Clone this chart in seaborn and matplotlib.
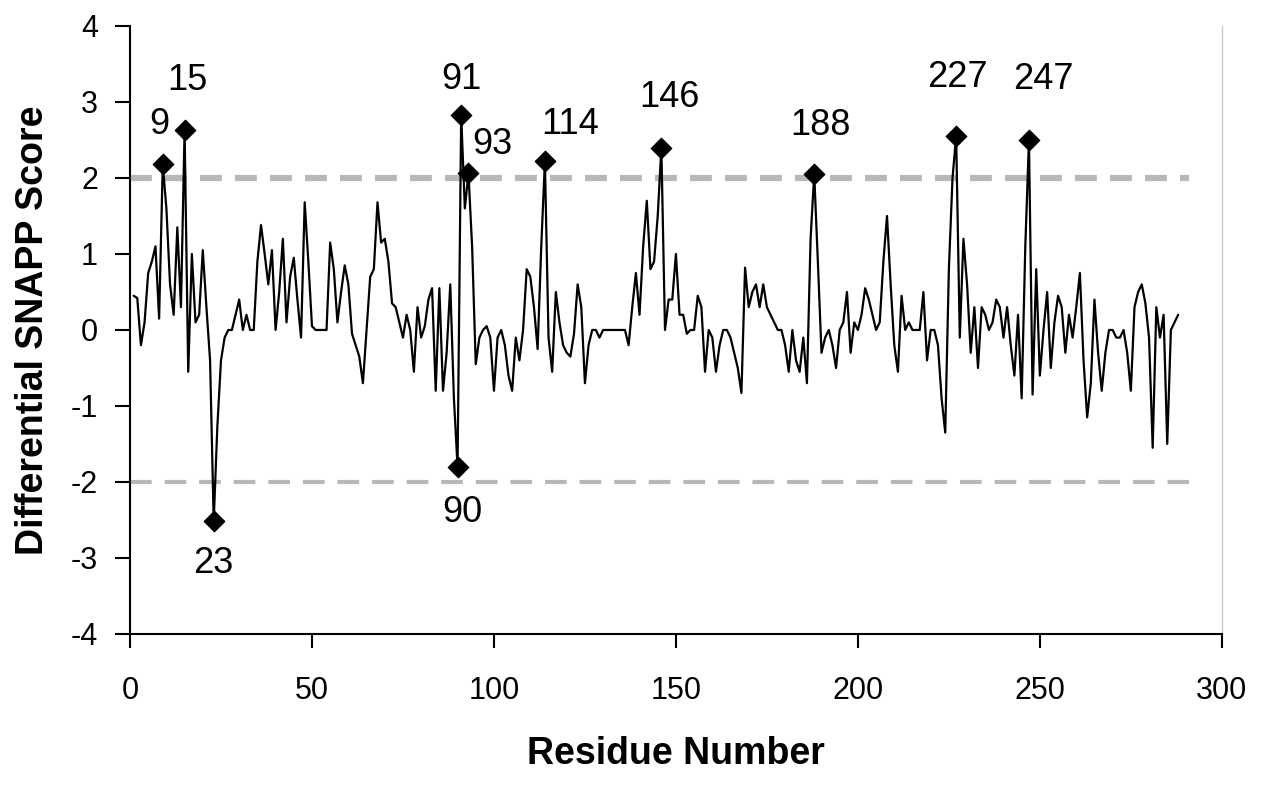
import matplotlib
matplotlib.use('Agg')
import matplotlib.pyplot as plt
import numpy as np
import pandas as pd
import seaborn as sns

# differential SNAPP score per residue
residues = list(range(1, 289))
scores = [
    0.45, 0.42, -0.2, 0.1, 0.75, 0.9, 1.1, 0.15, 2.18, 1.6,
    0.6, 0.2, 1.35, 0.3, 2.63, -0.55, 1.0, 0.1, 0.2, 1.05,
    0.3, -0.4, -2.52, -1.27, -0.4, -0.1, 0.0, 0.0, 0.2, 0.4,
    0.0, 0.2, 0.0, 0.0, 0.9, 1.38, 1.0, 0.6, 1.05, 0.0,
    0.5, 1.2, 0.1, 0.7, 0.95, 0.4, -0.1, 1.68, 0.9, 0.05,
    0.0, 0.0, 0.0, 0.0, 1.15, 0.8, 0.1, 0.5, 0.85, 0.6,
    -0.05, -0.2, -0.35, -0.7, 0.0, 0.7, 0.8, 1.68, 1.15, 1.2,
    0.9, 0.35, 0.3, 0.1, -0.1, 0.2, 0.0, -0.55, 0.3, -0.1,
    0.05, 0.4, 0.55, -0.8, 0.55, -0.8, -0.3, 0.6, -0.9, -1.8,
    2.83, 1.6, 2.06, 1.1, -0.45, -0.1, 0.0, 0.05, -0.1, -0.8,
    -0.1, 0.0, -0.2, -0.6, -0.8, -0.1, -0.4, 0.0, 0.8, 0.7,
    0.3, -0.25, 1.1, 2.22, -0.1, -0.55, 0.5, 0.1, -0.2, -0.3,
    -0.35, -0.05, 0.6, 0.3, -0.7, -0.2, 0.0, 0.0, -0.1, 0.0,
    0.0, 0.0, 0.0, 0.0, 0.0, 0.0, -0.2, 0.3, 0.75, 0.2,
    1.1, 1.7, 0.8, 0.9, 1.5, 2.4, 0.0, 0.4, 0.4, 1.0,
    0.2, 0.2, -0.05, 0.0, 0.0, 0.45, 0.3, -0.55, 0.0, -0.1,
    -0.55, -0.2, 0.0, 0.0, -0.1, -0.3, -0.5, -0.83, 0.82, 0.3,
    0.5, 0.6, 0.3, 0.6, 0.3, 0.2, 0.1, 0.0, 0.0, -0.2,
    -0.55, 0.0, -0.4, -0.55, -0.1, -0.7, 1.2, 2.05, 0.9, -0.3,
    -0.1, 0.0, -0.2, -0.5, 0.0, 0.1, 0.5, -0.3, 0.1, 0.0,
    0.2, 0.55, 0.4, 0.2, 0.0, 0.1, 0.9, 1.5, 0.6, -0.2,
    -0.55, 0.45, 0.0, 0.1, 0.0, 0.0, 0.0, 0.5, -0.4, 0.0,
    0.0, -0.2, -0.9, -1.35, 0.8, 2.0, 2.55, -0.1, 1.2, 0.6,
    -0.3, 0.3, -0.5, 0.3, 0.2, 0.0, 0.1, 0.4, 0.3, -0.1,
    0.3, -0.2, -0.6, 0.2, -0.9, 1.1, 2.5, -0.85, 0.8, -0.6,
    0.0, 0.5, -0.5, 0.1, 0.45, 0.3, -0.3, 0.2, -0.1, 0.3,
    0.75, -0.4, -1.15, -0.7, 0.4, -0.3, -0.8, -0.3, 0.0, 0.0,
    -0.1, -0.1, 0.0, -0.3, -0.8, 0.3, 0.5, 0.6, 0.35, -0.1,
    -1.55, 0.3, -0.1, 0.2, -1.5, 0.0, 0.1, 0.2,
]

# residues flagged with a diamond and a number
peaks = [9, 15, 23, 90, 91, 93, 114, 146, 188, 227, 247]
# label offsets from the diamond, in pixels
label_dx = [-3, 3, 0, 5, 0, 24, 25, 8, 6, 1, 14]
label_dy = [40, 50, -42, -46, 35, 29, 37, 50, 49, 59, 60]

thresholds = [2, -2]

df = pd.DataFrame({'residue': residues, 'score': scores})
peak_df = df[df['residue'].isin(peaks)]

sns.set_theme(style='white')
plt.rcParams['font.family'] = ['Liberation Sans', 'DejaVu Sans']
plt.rcParams['axes.unicode_minus'] = False
for key in ['text.color', 'axes.labelcolor', 'xtick.color', 'ytick.color']:
    plt.rcParams[key] = 'black'

fig = plt.figure(figsize=(12.77, 7.85), dpi=100)
ax = fig.add_axes([0.1018, 0.1924, 0.855, 0.7745])

# threshold lines
ax.hlines(thresholds[0], 0, df['residue'].max() + 3, colors='#b8b8b8', lw=4.5,
          linestyles=(0, (3.5, 2.1)), zorder=1)
ax.hlines(thresholds[1], 0, df['residue'].max() + 3, colors='#b8b8b8', lw=3,
          linestyles=(0, (5.2, 3.1)), zorder=1)

sns.lineplot(data=df, x='residue', y='score', color='black', lw=1.6, ax=ax, zorder=2)
sns.scatterplot(data=peak_df, x='residue', y='score', marker='D', s=110,
                color='black', edgecolor='black', ax=ax, zorder=3)

for r, dx, dy in zip(peaks, label_dx, label_dy):
    y = df.loc[df['residue'] == r, 'score'].iloc[0]
    ax.annotate(str(r), (r, y), xytext=(dx, dy), textcoords='offset pixels',
                ha='center', va='center', fontsize=26)

ax.set_xlim(0, 300)
ax.set_ylim(-4, 4)
ax.set_xticks(range(0, 301, 50))
ax.set_yticks(range(-4, 5))

for side in ['left', 'bottom']:
    ax.spines[side].set_color('black')
    ax.spines[side].set_linewidth(1.5)
ax.spines['top'].set_visible(False)
ax.spines['right'].set_color('#c8c8c8')
ax.spines['right'].set_linewidth(1)

ax.tick_params(axis='x', direction='out', length=10, width=1.5, pad=20,
               labelsize=22, bottom=True)
ax.tick_params(axis='y', direction='out', length=11, width=1.5, pad=12,
               labelsize=22, left=True)

ax.set_xlabel('Residue Number', fontsize=27, fontweight='bold', labelpad=22)
ax.set_ylabel('Differential SNAPP Score', fontsize=27, fontweight='bold', labelpad=14)

fig.savefig('out.png', dpi=100, facecolor='white')
